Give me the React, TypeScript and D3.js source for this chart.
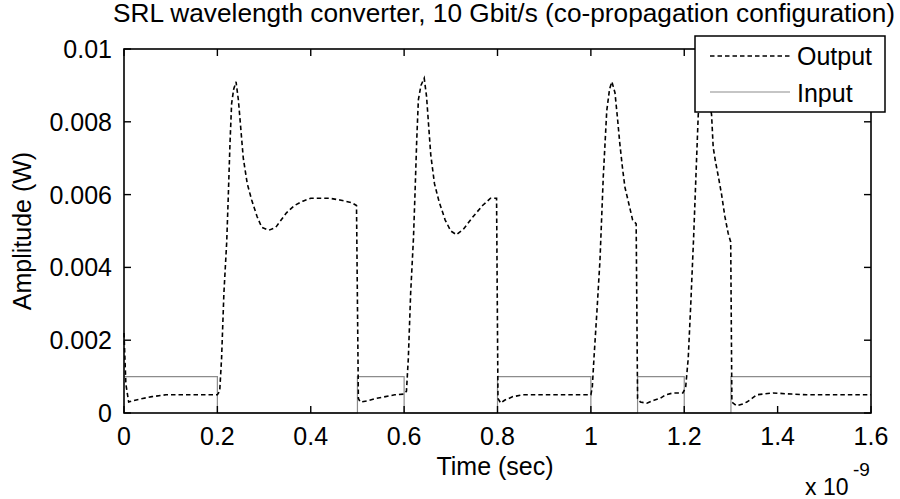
import React from "react";
import * as d3 from "d3";

const titleText = "SRL wavelength converter, 10 Gbit/s (co-propagation configuration)";
const xTicks = [0, 0.2, 0.4, 0.6, 0.8, 1, 1.2, 1.4, 1.6];
const yTicks = [0, 0.002, 0.004, 0.006, 0.008, 0.01];
const yTickLabels = ["0", "0.002", "0.004", "0.006", "0.008", "0.01"];

const outputTime = [
  0, 0.004, 0.01, 0.02, 0.04, 0.06, 0.09, 0.12, 0.15, 0.2,
  0.205, 0.209, 0.214, 0.22, 0.2235, 0.227, 0.2305, 0.235, 0.24, 0.245, 0.2555, 0.264, 0.2735, 0.285, 0.295, 0.31, 0.325, 0.348, 0.365, 0.383, 0.4, 0.42, 0.44, 0.4626, 0.4877, 0.498,
  0.502, 0.506, 0.52, 0.54, 0.56, 0.58, 0.6,
  0.605, 0.609, 0.614, 0.62, 0.6235, 0.627, 0.6305, 0.636, 0.643, 0.648, 0.657, 0.665, 0.675, 0.688, 0.7, 0.712, 0.727, 0.748, 0.768, 0.785, 0.798,
  0.801, 0.807, 0.815, 0.833, 0.855, 0.9, 0.95, 1.0,
  1.003, 1.0066, 1.013, 1.0195, 1.0266, 1.034, 1.04, 1.045, 1.0516, 1.057, 1.062, 1.068, 1.073, 1.084, 1.0895, 1.097,
  1.1, 1.106, 1.12, 1.135, 1.148, 1.16, 1.176, 1.197,
  1.203, 1.2085, 1.214, 1.22, 1.225, 1.23, 1.236, 1.243, 1.25, 1.2585, 1.262, 1.267, 1.273, 1.28, 1.287, 1.294, 1.2995,
  1.302, 1.312, 1.325, 1.334, 1.345, 1.355, 1.39, 1.43, 1.462, 1.5, 1.55, 1.6,
];
const outputValue = [
  0.0022, 0.0008, 0.0003, 0.00034, 0.0004, 0.00045, 0.0005, 0.0005, 0.0005, 0.0005,
  0.0006, 0.0015, 0.0033, 0.0047, 0.006, 0.0074, 0.0085, 0.0089, 0.0091, 0.0086, 0.007, 0.0063, 0.00585, 0.0054, 0.0051, 0.00502, 0.0051, 0.0055, 0.0057, 0.00582, 0.0059, 0.0059, 0.0059, 0.00585, 0.00578, 0.0057,
  0.0004, 0.0003, 0.00033, 0.0004, 0.00045, 0.0005, 0.00052,
  0.0006, 0.0015, 0.0033, 0.0048, 0.0061, 0.0075, 0.0086, 0.009, 0.0092, 0.0087, 0.0071, 0.0063, 0.0058, 0.0053, 0.005, 0.0049, 0.00505, 0.0054, 0.0057, 0.0059, 0.0059,
  0.0004, 0.00027, 0.00035, 0.00045, 0.0005, 0.0005, 0.0005, 0.0005,
  0.0007, 0.0015, 0.0028, 0.0042, 0.0065, 0.0083, 0.0089, 0.0091, 0.0088, 0.0081, 0.0074, 0.0067, 0.0062, 0.0056, 0.0053, 0.0052,
  0.0004, 0.0003, 0.00027, 0.00035, 0.0004, 0.0005, 0.00055, 0.00055,
  0.0007, 0.0015, 0.003, 0.0048, 0.0065, 0.0082, 0.0089, 0.0091, 0.0089, 0.0082, 0.0073, 0.0069, 0.0065, 0.006, 0.0054, 0.00494, 0.0047,
  0.0003, 0.0002, 0.00025, 0.0003, 0.0004, 0.0005, 0.00055, 0.00052, 0.0005, 0.0005, 0.0005, 0.0005,
];

const inputTime = [0, 0.2, 0.2, 0.5, 0.5, 0.6, 0.6, 0.8, 0.8, 1.0, 1.0, 1.1, 1.1, 1.2, 1.2, 1.3, 1.3, 1.6];
const inputValue = [0.001, 0.001, 0, 0, 0.001, 0.001, 0, 0, 0.001, 0.001, 0, 0, 0.001, 0.001, 0, 0, 0.001, 0.001];

const W = 900;
const H = 499;
const left = 124;
const right = 871;
const top = 49;
const bottom = 413;
const FONT = "'Liberation Sans', Arial, Helvetica, sans-serif";
const FS = 25;

export default function App() {
  const x = d3.scaleLinear().domain([0, 1.6]).range([left, right]);
  const y = d3.scaleLinear().domain([0, 0.01]).range([bottom, top]);

  const outPts: [number, number][] = outputTime.map((t, i) => [t, outputValue[i]]);
  const inPts: [number, number][] = inputTime.map((t, i) => [t, inputValue[i]]);
  const line = d3
    .line<[number, number]>()
    .x((d) => x(d[0]))
    .y((d) => y(d[1]));

  const tickLen = 7;

  return (
    <svg
      width={W}
      height={H}
      style={{ position: "absolute", left: 0, top: 0, background: "#fff" }}
      fontFamily={FONT}
    >
      <rect x={0} y={0} width={W} height={H} fill="#fff" />
      <text x={504} y={22} fontSize={FS} textAnchor="middle" textLength={782} lengthAdjust="spacingAndGlyphs">
        {titleText}
      </text>

      {/* data */}
      <path d={line(inPts) || ""} fill="none" stroke="#8c8c8c" strokeWidth={1.2} />
      <path d={line(outPts) || ""} fill="none" stroke="#000" strokeWidth={1.6} strokeDasharray="4.5,3" />

      {/* axes box */}
      <rect x={left} y={top} width={right - left} height={bottom - top} fill="none" stroke="#000" strokeWidth={1.6} />

      {xTicks.map((t) => (
        <g key={"xt" + t}>
          <line x1={x(t)} x2={x(t)} y1={bottom} y2={bottom - tickLen} stroke="#000" strokeWidth={1.4} />
          <line x1={x(t)} x2={x(t)} y1={top} y2={top + tickLen} stroke="#000" strokeWidth={1.4} />
          <text x={x(t)} y={445} fontSize={FS} textAnchor="middle">
            {String(t)}
          </text>
        </g>
      ))}
      {yTicks.map((v, i) => (
        <g key={"yt" + v}>
          <line x1={left} x2={left + tickLen} y1={y(v)} y2={y(v)} stroke="#000" strokeWidth={1.4} />
          <line x1={right} x2={right - tickLen} y1={y(v)} y2={y(v)} stroke="#000" strokeWidth={1.4} />
          <text x={112} y={y(v) + 9} fontSize={FS} textAnchor="end">
            {yTickLabels[i]}
          </text>
        </g>
      ))}

      <text x={495} y={475} fontSize={FS} textAnchor="middle">
        Time (sec)
      </text>
      <text transform={`translate(31, ${(top + bottom) / 2}) rotate(-90)`} fontSize={FS} textAnchor="middle">
        Amplitude (W)
      </text>
      <text x={805} y={495} fontSize={23}>
        x 10
      </text>
      <text x={853} y={476} fontSize={19}>
        -9
      </text>

      {/* legend */}
      <rect x={695} y={36} width={190} height={76} fill="#fff" stroke="#000" strokeWidth={1.5} />
      <line x1={710} x2={792} y1={56} y2={56} stroke="#000" strokeWidth={1.6} strokeDasharray="4.5,3" />
      <text x={797} y={65} fontSize={FS}>
        Output
      </text>
      <line x1={710} x2={790} y1={92} y2={92} stroke="#8c8c8c" strokeWidth={1.2} />
      <text x={797} y={102} fontSize={FS}>
        Input
      </text>
    </svg>
  );
}
